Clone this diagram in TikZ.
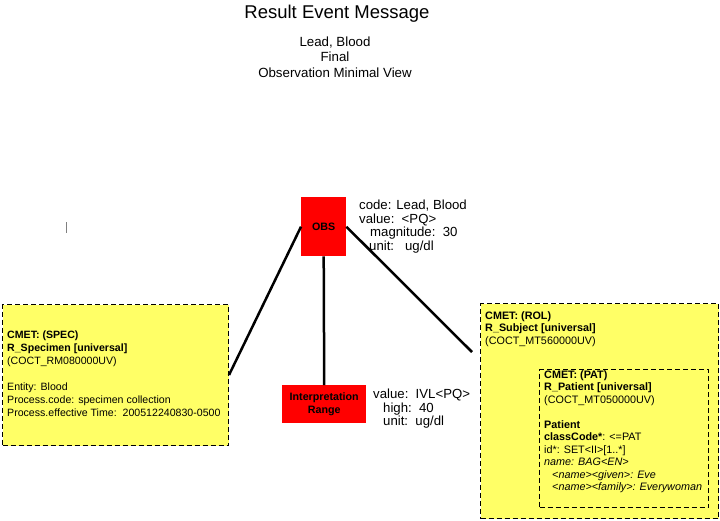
\documentclass[tikz,border=0pt]{standalone}
\usepackage{fontspec}
\setmainfont{Liberation Sans}
\definecolor{cmetyellow}{RGB}{255,255,102}
\definecolor{actred}{RGB}{255,0,0}
\begin{document}
\begin{tikzpicture}[x=1pt,y=-1pt]
\tikzset{
  cmetbox/.style={draw=black, dash pattern=on 5pt off 3pt, line width=1pt, fill=cmetyellow, anchor=north west, inner sep=0},
  actbox/.style={fill=actred, anchor=north west, inner sep=0, align=center, font=\fontsize{10.7}{12.5}\selectfont\bfseries},
  txt/.style={inner sep=0, anchor=north west, align=left, font=\fontsize{10.6}{13}\selectfont},
  bigtxt/.style={inner sep=0, anchor=north west, align=left, font=\fontsize{13.2}{13.6}\selectfont},
  link/.style={line width=2.5pt}
}
\useasboundingbox (0,0) rectangle (720,520);
% title
\node[inner sep=0, font=\fontsize{18.5}{20}\selectfont] (title) at (337,14) {Result Event Message};
\node[inner sep=0, align=center, font=\fontsize{13.3}{15.5}\selectfont] (sub) at (335,57) {Lead, Blood\\Final\\Observation Minimal View};
% cursor mark
\coordinate (curA) at (66,222);
\coordinate (curB) at (66,233);
\draw[gray, line width=1pt] (curA) -- (curB);
% boxes
\node[cmetbox, minimum width=226pt, minimum height=141pt] (spec) at (2,304) {};
\node[cmetbox, minimum width=238pt, minimum height=215pt] (subj) at (480,303) {};
\node[cmetbox, minimum width=169pt, minimum height=138pt] (pat) at (539,369) {};
\node[actbox, minimum width=45pt, minimum height=59pt] (obs) at (301,197) {OBS};
\node[actbox, minimum width=84pt, minimum height=38pt] (interp) at (282,385) {Interpretation\\Range};
% connectors
\coordinate (subjend) at (472,352);
\draw[link] (obs.west) -- (spec.east);
\draw[link] (obs.south) -- (interp.north);
\draw[link] (obs.east) -- (subjend);
% texts
\node[bigtxt] (obstxt) at (359,200) {code: Lead, Blood\\value:\ \ <PQ>\\\hspace*{11pt}magnitude:\ \ 30\\\hspace*{10pt}unit:\ \ \ ug/dl};
\node[bigtxt] (interptxt) at (373,389) {value:\ \ IVL<PQ>\\\hspace*{10pt}high:\ \ 40\\\hspace*{10pt}unit:\ \ ug/dl};
\node[txt] (spectxt) at (7,331) {\textbf{CMET: (SPEC)}\\\textbf{R\_Specimen [universal]}\\(COCT\_RM080000UV)\\[13pt]Entity: Blood\\Process.code: specimen collection\\Process.effective Time:\ \ 200512240830-0500};
\node[txt, font=\fontsize{10.8}{12.5}\selectfont] (subjtxt) at (485,311) {\textbf{CMET: (ROL)}\\\textbf{R\_Subject [universal]}\\(COCT\_MT560000UV)};
\node[txt, font=\fontsize{10.8}{12.5}\selectfont] (pattxt) at (544,370) {\textbf{CMET: (PAT)}\\\textbf{R\_Patient [universal]}\\(COCT\_MT050000UV)\\[12.5pt]\textbf{Patient}\\\textbf{classCode*}: <=PAT\\id*: SET<II>[1..*]\\\textit{name: BAG<EN>}\\\hspace*{8pt}\textit{<name><given>: Eve}\\\hspace*{8pt}\textit{<name><family>: Everywoman}};
\end{tikzpicture}
\end{document}
